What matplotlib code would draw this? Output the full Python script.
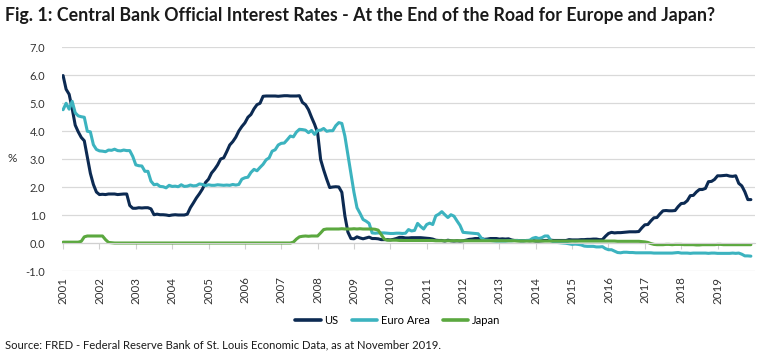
import numpy as np
import matplotlib
matplotlib.use("Agg")
import matplotlib.pyplot as plt

# monthly values, Jan 2001 - Dec 2019 (one row per year)
us_rate = [
    5.98, 5.49, 5.31, 4.80, 4.21, 3.97, 3.77, 3.65, 3.07, 2.49, 2.09, 1.82,
    1.73, 1.74, 1.73, 1.75, 1.75, 1.75, 1.73, 1.74, 1.75, 1.75, 1.34, 1.24,
    1.24, 1.26, 1.25, 1.26, 1.26, 1.22, 1.01, 1.03, 1.01, 1.01, 1.00, 0.98,
    1.00, 1.01, 1.00, 1.00, 1.00, 1.03, 1.26, 1.43, 1.61, 1.76, 1.93, 2.16,
    2.28, 2.50, 2.63, 2.79, 3.00, 3.04, 3.26, 3.50, 3.62, 3.78, 4.00, 4.16,
    4.29, 4.49, 4.59, 4.79, 4.94, 4.99, 5.24, 5.25, 5.25, 5.25, 5.25, 5.24,
    5.25, 5.26, 5.26, 5.25, 5.25, 5.25, 5.26, 5.02, 4.94, 4.76, 4.49, 4.24,
    3.94, 2.98, 2.61, 2.28, 1.98, 2.00, 2.01, 2.00, 1.81, 0.97, 0.39, 0.16,
    0.15, 0.22, 0.18, 0.15, 0.18, 0.21, 0.16, 0.16, 0.15, 0.12, 0.12, 0.12,
    0.11, 0.13, 0.16, 0.20, 0.20, 0.18, 0.18, 0.19, 0.19, 0.19, 0.19, 0.18,
    0.17, 0.16, 0.14, 0.10, 0.09, 0.09, 0.07, 0.10, 0.08, 0.07, 0.08, 0.07,
    0.08, 0.10, 0.13, 0.14, 0.16, 0.16, 0.16, 0.13, 0.14, 0.16, 0.16, 0.16,
    0.14, 0.15, 0.14, 0.15, 0.11, 0.09, 0.09, 0.08, 0.08, 0.09, 0.08, 0.09,
    0.07, 0.07, 0.08, 0.09, 0.09, 0.10, 0.09, 0.09, 0.09, 0.09, 0.09, 0.12,
    0.11, 0.11, 0.11, 0.12, 0.12, 0.13, 0.13, 0.14, 0.14, 0.12, 0.12, 0.24,
    0.34, 0.38, 0.36, 0.37, 0.37, 0.38, 0.39, 0.40, 0.40, 0.40, 0.41, 0.54,
    0.65, 0.66, 0.79, 0.90, 0.91, 1.04, 1.15, 1.16, 1.15, 1.15, 1.16, 1.30,
    1.41, 1.42, 1.51, 1.69, 1.70, 1.82, 1.91, 1.91, 1.95, 2.19, 2.20, 2.27,
    2.40, 2.40, 2.41, 2.42, 2.39, 2.38, 2.40, 2.13, 2.04, 1.83, 1.55, 1.55,
]

euro_rate = [
    4.76, 4.99, 4.78, 5.06, 4.65, 4.54, 4.51, 4.49, 3.99, 3.97, 3.51, 3.34,
    3.29, 3.28, 3.26, 3.32, 3.31, 3.35, 3.30, 3.29, 3.32, 3.30, 3.30, 3.09,
    2.79, 2.76, 2.75, 2.56, 2.56, 2.21, 2.08, 2.10, 2.02, 2.01, 1.97, 2.06,
    2.02, 2.03, 2.01, 2.08, 2.02, 2.03, 2.07, 2.04, 2.05, 2.11, 2.09, 2.05,
    2.08, 2.06, 2.06, 2.08, 2.07, 2.06, 2.07, 2.06, 2.09, 2.07, 2.09, 2.28,
    2.33, 2.35, 2.52, 2.63, 2.58, 2.70, 2.81, 2.97, 3.04, 3.28, 3.33, 3.50,
    3.56, 3.57, 3.69, 3.82, 3.79, 3.96, 4.06, 4.05, 4.03, 3.94, 4.02, 3.88,
    4.02, 4.03, 4.09, 3.99, 4.01, 4.01, 4.19, 4.30, 4.27, 3.82, 3.15, 2.49,
    1.81, 1.26, 1.06, 0.84, 0.78, 0.70, 0.36, 0.35, 0.36, 0.36, 0.36, 0.35,
    0.34, 0.34, 0.35, 0.35, 0.34, 0.35, 0.48, 0.43, 0.45, 0.70, 0.59, 0.50,
    0.66, 0.71, 0.66, 0.97, 1.03, 1.12, 1.01, 0.91, 1.01, 0.96, 0.79, 0.63,
    0.38, 0.37, 0.36, 0.35, 0.34, 0.33, 0.18, 0.11, 0.10, 0.09, 0.08, 0.07,
    0.07, 0.07, 0.07, 0.08, 0.08, 0.09, 0.09, 0.08, 0.08, 0.09, 0.10, 0.17,
    0.20, 0.16, 0.19, 0.25, 0.25, 0.08, 0.04, 0.02, 0.01, 0.00, -0.01, -0.03,
    -0.05, -0.04, -0.05, -0.07, -0.11, -0.12, -0.12, -0.12, -0.14, -0.14, -0.13, -0.20,
    -0.24, -0.24, -0.29, -0.34, -0.35, -0.33, -0.33, -0.34, -0.34, -0.35, -0.35, -0.35,
    -0.35, -0.35, -0.35, -0.36, -0.36, -0.36, -0.36, -0.36, -0.36, -0.36, -0.35, -0.34,
    -0.36, -0.36, -0.36, -0.37, -0.36, -0.36, -0.36, -0.36, -0.36, -0.37, -0.36, -0.36,
    -0.37, -0.37, -0.37, -0.37, -0.37, -0.36, -0.37, -0.36, -0.40, -0.46, -0.46, -0.47,
]

japan_rate = [
    0.03, 0.03, 0.03, 0.03, 0.03, 0.03, 0.06, 0.22, 0.25, 0.25, 0.25, 0.25,
    0.25, 0.25, 0.12, 0.02, 0.01, 0.00, 0.00, 0.00, 0.00, 0.00, 0.00, 0.00,
    0.00, 0.00, 0.00, 0.00, 0.00, 0.00, 0.00, 0.00, 0.00, 0.00, 0.00, 0.00,
    0.00, 0.00, 0.00, 0.00, 0.00, 0.00, 0.00, 0.00, 0.00, 0.00, 0.00, 0.00,
    0.00, 0.00, 0.00, 0.00, 0.00, 0.00, 0.00, 0.00, 0.00, 0.00, 0.00, 0.00,
    0.00, 0.00, 0.00, 0.00, 0.00, 0.00, 0.00, 0.00, 0.00, 0.00, 0.00, 0.00,
    0.00, 0.00, 0.00, 0.00, 0.03, 0.14, 0.22, 0.24, 0.25, 0.24, 0.25, 0.25,
    0.25, 0.36, 0.48, 0.50, 0.50, 0.50, 0.50, 0.50, 0.51, 0.50, 0.50, 0.50,
    0.51, 0.50, 0.51, 0.50, 0.50, 0.50, 0.50, 0.49, 0.46, 0.30, 0.14, 0.10,
    0.10, 0.10, 0.10, 0.09, 0.09, 0.09, 0.09, 0.09, 0.09, 0.09, 0.09, 0.09,
    0.09, 0.09, 0.09, 0.08, 0.08, 0.08, 0.08, 0.08, 0.08, 0.08, 0.08, 0.08,
    0.08, 0.08, 0.08, 0.08, 0.08, 0.08, 0.08, 0.08, 0.08, 0.08, 0.08, 0.08,
    0.08, 0.08, 0.08, 0.08, 0.08, 0.08, 0.07, 0.07, 0.07, 0.07, 0.07, 0.07,
    0.07, 0.07, 0.07, 0.07, 0.07, 0.07, 0.07, 0.07, 0.07, 0.07, 0.07, 0.07,
    0.07, 0.07, 0.07, 0.07, 0.07, 0.07, 0.07, 0.07, 0.07, 0.07, 0.07, 0.07,
    0.07, 0.07, 0.07, 0.06, 0.06, 0.06, 0.06, 0.06, 0.06, 0.06, 0.06, 0.05,
    0.04, 0.02, -0.02, -0.05, -0.06, -0.06, -0.06, -0.05, -0.05, -0.06, -0.05, -0.05,
    -0.05, -0.06, -0.06, -0.06, -0.06, -0.07, -0.07, -0.06, -0.06, -0.06, -0.06, -0.06,
    -0.05, -0.05, -0.06, -0.06, -0.06, -0.06, -0.06, -0.06, -0.06, -0.06, -0.06, -0.06,
]

years = list(range(2001, 2020))
series_names = ["US", "Euro Area", "Japan"]
series_colors = ["#0c2a52", "#3cb3bf", "#5ba83f"]

t = 2001 + np.arange(len(us_rate)) / 12.0

plt.rcParams['font.family'] = ['Lato', 'DejaVu Sans']

fig = plt.figure(figsize=(7.62, 3.54), dpi=100)
ax = fig.add_axes([62 / 762, 1 - 271 / 354, 693 / 762, 224 / 354])

for vals, name, col in zip([us_rate, euro_rate, japan_rate], series_names, series_colors):
    ax.plot(t, vals, color=col, lw=2.2, label=name, solid_capstyle='round')

ax.set_xlim(2000.97, 2020.03)
ax.set_ylim(-1, 7)
ax.set_yticks(np.arange(-1, 8, 1))
ax.set_yticklabels([f"{v:.1f}" for v in np.arange(-1, 8, 1)], fontsize=8, color="#333333")
ax.yaxis.grid(True, color="#d9d9d9", lw=0.9)
ax.set_axisbelow(True)
ax.tick_params(axis='y', length=0, pad=12)

for s in ["top", "right", "left"]:
    ax.spines[s].set_visible(False)
# x axis line sits at zero with ticks pointing down
ax.spines["bottom"].set_position(("data", 0))
ax.spines["bottom"].set_color("#d0d0d0")
ax.set_xticks(years)
ax.tick_params(axis='x', length=4, color="#d0d0d0", labelbottom=False)

# year labels along the bottom edge
sec = ax.secondary_xaxis(0.0)
sec.set_xticks(years)
sec.set_xticklabels([str(y) for y in years], rotation=90, fontsize=8.3, color="#333333")
sec.tick_params(length=0, pad=4)
sec.spines["bottom"].set_visible(False)

ax.text(-0.072, 0.5, "%", transform=ax.transAxes, fontsize=8.5, color="#333333",
        ha="center", va="center")

fig.text(0.006, 0.955, "Fig. 1: Central Bank Official Interest Rates - At the End of the Road for Europe and Japan?",
         fontsize=12.8, fontweight="bold", color="#1a1a1a", ha="left", va="center")
fig.text(0.006, 0.025, "Source: FRED - Federal Reserve Bank of St. Louis Economic Data, as at November 2019.",
         fontsize=8.1, color="#1a1a1a", ha="left", va="center")

leg = fig.legend(loc="center", bbox_to_anchor=(0.522, 0.095), ncol=3, frameon=False,
                 fontsize=8, handlelength=2.3, handletextpad=0.3, columnspacing=1.2)
for line in leg.get_lines():
    line.set_linewidth(2.6)

fig.savefig("out.png", dpi=100)
